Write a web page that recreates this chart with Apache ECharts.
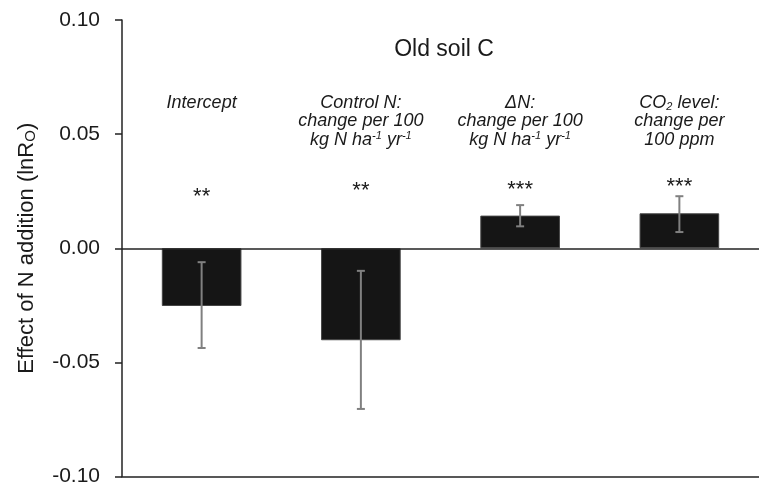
<!DOCTYPE html>
<html>
<head>
<meta charset="utf-8">
<script src="https://cdn.jsdelivr.net/npm/echarts@6/dist/echarts.min.js"></script>
<style>
html,body{margin:0;padding:0;background:#fff;}
#c{width:759px;height:487px;}
</style>
</head>
<body>
<div id="c"></div>
<script>
// ---- data ----
const categories = ['Intercept', 'Control N', 'ΔN', 'CO2 level'];
const effects = [-0.0253, -0.0403, 0.0143, 0.0153];
const errLow = [-0.0437, -0.0704, 0.0096, 0.0071];
const errHigh = [-0.0061, -0.0099, 0.0189, 0.0228];
const significance = ['**', '**', '***', '***'];
const categoryLabels = [
  'Intercept',
  'Control N:\nchange per 100\nkg N ha{sup|-1} yr{sup|-1}',
  'ΔN:\nchange per 100\nkg N ha{sup|-1} yr{sup|-1}',
  'CO{sub|2} level:\nchange per\n100 ppm'
];
const yTicks = [-0.10, -0.05, 0.00, 0.05, 0.10];
// annotation anchors (data units)
const starLevels = [0.0223, 0.0249, 0.0255, 0.0269];
const LABEL_TOP = 0.0678;

const FONT = '"Liberation Sans", Arial, sans-serif';
const chart = echarts.init(document.getElementById('c'));

chart.setOption({
  animation: false,
  backgroundColor: '#fff',
  title: {
    text: 'Old soil C',
    left: 439,
    textAlign: 'center',
    top: 33,
    textStyle: {fontFamily: FONT, fontSize: 23, fontWeight: 'normal', color: '#1a1a1a'}
  },
  grid: {left: 122, right: 0, top: 20, bottom: 8},
  xAxis: {
    type: 'category',
    data: categories,
    axisLine: {show: true, onZero: false, lineStyle: {color: '#222', width: 1.5}},
    axisTick: {show: false},
    axisLabel: {show: false},
    splitLine: {show: false}
  },
  yAxis: {
    type: 'value',
    min: yTicks[0],
    max: yTicks[yTicks.length - 1],
    interval: 0.05,
    axisLine: {show: true, lineStyle: {color: '#222', width: 1.5}},
    axisTick: {show: true, inside: false, length: 7, lineStyle: {color: '#222', width: 1.5}},
    axisLabel: {
      margin: 22,
      fontFamily: FONT, fontSize: 21, color: '#1a1a1a',
      formatter: v => v.toFixed(2)
    },
    splitLine: {show: false},
    name: 'Effect of N addition (lnR{sub|O})',
    nameLocation: 'middle',
    nameGap: 84,
    nameTextStyle: {
      fontFamily: FONT, fontSize: 22, color: '#1a1a1a',
      rich: {sub: {fontFamily: FONT, fontSize: 15, color: '#1a1a1a', verticalAlign: 'bottom', lineHeight: 15}}
    }
  },
  series: [
    {
      type: 'bar',
      data: effects,
      barWidth: '50%',
      itemStyle: {color: '#151515', borderColor: '#444', borderWidth: 1},
      markLine: {
        silent: true,
        symbol: 'none',
        label: {show: false},
        lineStyle: {color: '#222', width: 1.5, type: 'solid'},
        data: [{yAxis: 0}]
      },
      z: 2
    },
    {
      type: 'custom',
      data: categories.map((c, i) => [i, errLow[i], errHigh[i]]),
      renderItem: function (params, api) {
        const x = api.value(0);
        const lo = api.coord([x, api.value(1)]);
        const hi = api.coord([x, api.value(2)]);
        const hw = 4;
        const st = {stroke: '#808080', lineWidth: 2};
        return {
          type: 'group',
          children: [
            {type: 'line', shape: {x1: lo[0], y1: lo[1], x2: hi[0], y2: hi[1]}, style: st},
            {type: 'line', shape: {x1: lo[0] - hw, y1: lo[1], x2: lo[0] + hw, y2: lo[1]}, style: st},
            {type: 'line', shape: {x1: hi[0] - hw, y1: hi[1], x2: hi[0] + hw, y2: hi[1]}, style: st}
          ]
        };
      },
      z: 5
    },
    {
      type: 'custom',
      data: categories.map((c, i) => [i, starLevels[i]]),
      renderItem: function (params, api) {
        const p = api.coord([api.value(0), api.value(1)]);
        return {
          type: 'text', x: p[0], y: p[1],
          style: {
            text: significance[params.dataIndex],
            fontFamily: FONT, fontSize: 22, fill: '#1a1a1a',
            align: 'center', verticalAlign: 'middle'
          }
        };
      },
      z: 6
    },
    {
      type: 'custom',
      data: categories.map((c, i) => [i, LABEL_TOP]),
      renderItem: function (params, api) {
        const p = api.coord([api.value(0), api.value(1)]);
        return {
          type: 'text', x: p[0], y: p[1],
          style: {
            text: categoryLabels[params.dataIndex],
            fontFamily: FONT, fontSize: 18, fontStyle: 'italic', fill: '#1a1a1a',
            align: 'center', verticalAlign: 'top', lineHeight: 18.5,
            rich: {
              sup: {fontFamily: FONT, fontSize: 11, fontStyle: 'italic', fill: '#1a1a1a', verticalAlign: 'top', lineHeight: 11},
              sub: {fontFamily: FONT, fontSize: 11, fontStyle: 'italic', fill: '#1a1a1a', verticalAlign: 'bottom', lineHeight: 11}
            }
          }
        };
      },
      z: 6
    }
  ]
});
</script>
</body>
</html>
